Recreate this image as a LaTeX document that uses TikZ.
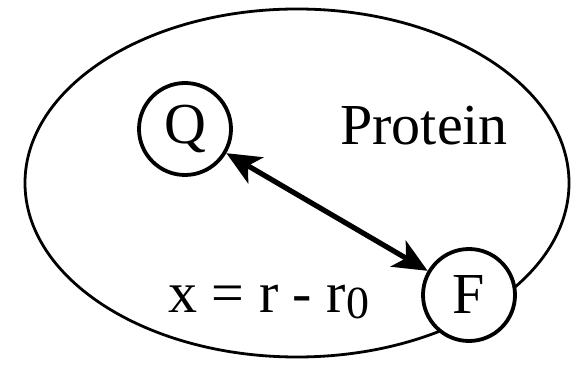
\documentclass[tikz,border=0pt]{standalone}
\usepackage{fontspec}
\setmainfont{Liberation Serif}
\usetikzlibrary{arrows.meta}

\begin{document}
\begin{tikzpicture}[
        x=0.5pt,y=-0.5pt,
        dye/.style={circle,draw,line width=1.9pt,fill=white,minimum size=46pt,
          inner sep=0pt,font=\fontsize{29}{30}\selectfont},
        lbl/.style={anchor=base west,inner sep=0pt,font=\fontsize{29}{30}\selectfont},
        arrow/.style={{Stealth[length=17pt,width=15pt,inset=4.5pt]}-{Stealth[length=17pt,width=15pt,inset=4.5pt]},
          line width=2.6pt}
      ]
        \useasboundingbox (0,0) rectangle (581,367);
        \draw[line width=1.4pt] (297,183) ellipse [x radius=272,y radius=174];
        \node[dye] (quencher) at (185,129) {Q};
        \node[dye] (fluor) at (469,295) {F};
        \node[lbl] (protein) at (340,145) {Protein};
        \node[lbl] (dist) at (168,312) {x = r - r\raisebox{-3pt}{\fontsize{23}{23}\selectfont 0}};
        \draw[arrow] (quencher) -- (fluor);
      \end{tikzpicture}
\end{document}
